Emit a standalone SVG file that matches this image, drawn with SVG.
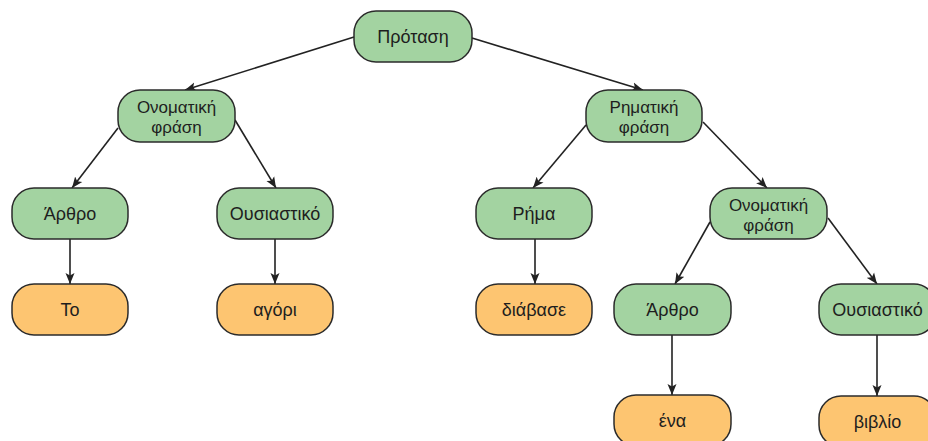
<svg xmlns="http://www.w3.org/2000/svg" width="928" height="441" viewBox="0 0 928 441">
<style>
.g{fill:#a3d3a1;stroke:#2b2b2b;stroke-width:1.5}
.o{fill:#fdc571;stroke:#2b2b2b;stroke-width:1.5}
text{font-family:"Liberation Sans",Arial,sans-serif;font-size:18px;fill:#1e1e1e;text-anchor:middle}
text.t2{font-size:17px}
.e{stroke:#222;stroke-width:1.6;fill:none;marker-end:url(#ah)}
</style>
<defs>
<marker id="ah" markerUnits="userSpaceOnUse" markerWidth="12" markerHeight="10" refX="11" refY="5" orient="auto">
<path d="M0,0.5 L11,5 L0,9.5 L2.5,5 z" fill="#222"/>
</marker>
</defs>
<rect width="928" height="441" fill="#fff"/>
<g id="edges">
<line class="e" x1="354" y1="37" x2="185" y2="90"/>
<line class="e" x1="472" y1="38" x2="643" y2="90"/>
<line class="e" x1="118" y1="128" x2="72" y2="188"/>
<line class="e" x1="235" y1="120" x2="276" y2="188"/>
<line class="e" x1="70" y1="239" x2="70" y2="284"/>
<line class="e" x1="275" y1="239" x2="275" y2="284"/>
<line class="e" x1="586" y1="125" x2="533" y2="188"/>
<line class="e" x1="703" y1="122" x2="767" y2="188"/>
<line class="e" x1="535" y1="239" x2="535" y2="284"/>
<line class="e" x1="710" y1="222" x2="675" y2="284"/>
<line class="e" x1="828" y1="218" x2="877" y2="284"/>
<line class="e" x1="672" y1="335" x2="672" y2="395"/>
<line class="e" x1="877" y1="335" x2="877" y2="396"/>
</g>
<g id="n_protasi"><rect class="g" x="354" y="11" width="118" height="51" rx="22"/><text x="413" y="43">Πρόταση</text></g>
<g id="n_of1"><rect class="g" x="118" y="90" width="117" height="52" rx="22"/><text class="t2" x="176.5" y="113">Ονοματική</text><text class="t2" x="176.5" y="133">φράση</text></g>
<g id="n_rf"><rect class="g" x="586" y="90" width="116" height="52" rx="22"/><text class="t2" x="644" y="113">Ρηματική</text><text class="t2" x="644" y="133">φράση</text></g>
<g id="n_arthro1"><rect class="g" x="12" y="188" width="116" height="51" rx="22"/><text x="70" y="220">Άρθρο</text></g>
<g id="n_ousiastiko1"><rect class="g" x="217" y="188" width="116" height="51" rx="22"/><text x="275" y="220">Ουσιαστικό</text></g>
<g id="n_rima"><rect class="g" x="476" y="188" width="116" height="51" rx="22"/><text x="534" y="220">Ρήμα</text></g>
<g id="n_of2"><rect class="g" x="710" y="188" width="117" height="51" rx="22"/><text class="t2" x="768.5" y="211">Ονοματική</text><text class="t2" x="768.5" y="231">φράση</text></g>
<g id="n_to"><rect class="o" x="12" y="284" width="116" height="51" rx="22"/><text x="70" y="316">Το</text></g>
<g id="n_agori"><rect class="o" x="217" y="284" width="116" height="51" rx="22"/><text x="275" y="316">αγόρι</text></g>
<g id="n_diavase"><rect class="o" x="476" y="284" width="116" height="51" rx="22"/><text x="534" y="316">διάβασε</text></g>
<g id="n_arthro2"><rect class="g" x="614" y="284" width="117" height="51" rx="22"/><text x="672.5" y="316">Άρθρο</text></g>
<g id="n_ousiastiko2"><rect class="g" x="819" y="284" width="117" height="51" rx="22"/><text x="877.5" y="316">Ουσιαστικό</text></g>
<g id="n_ena"><rect class="o" x="614" y="395" width="117" height="51" rx="22"/><text x="672.5" y="427">ένα</text></g>
<g id="n_vivlio"><rect class="o" x="819" y="396" width="117" height="51" rx="22"/><text x="877.5" y="428">βιβλίο</text></g>
</svg>
